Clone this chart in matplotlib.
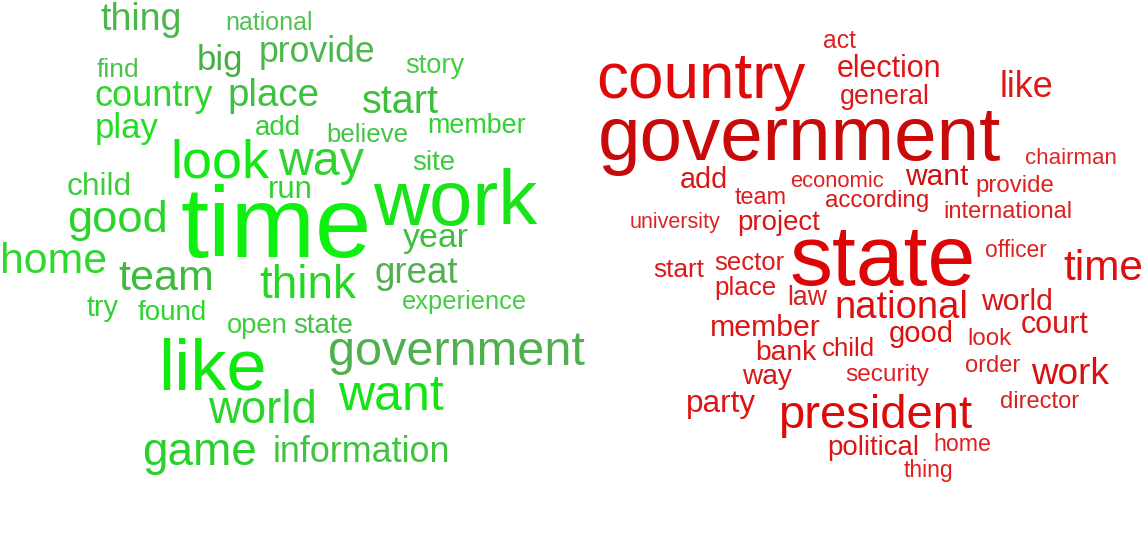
import matplotlib
matplotlib.use("Agg")
import matplotlib.pyplot as plt

# ---- data: words and their weights (rendered as font size in pt) ----
green_words = ["thing", "national", "big", "provide", "find", "story", "country", "place",
               "start", "play", "add", "believe", "member", "look", "way", "site", "child",
               "run", "good", "time", "work", "year", "home", "team", "think", "great",
               "try", "found", "experience", "open", "state", "like", "government", "want",
               "world", "game", "information"]
green_weights = [27, 18, 25, 25.7, 19, 19.6, 26, 27.7,
                 28.5, 25, 19.9, 18.6, 19.4, 39, 34.8, 20, 22.8,
                 22.4, 32.7, 73, 56, 24.4, 30.8, 31, 33, 26.5,
                 20.7, 20, 18.4, 19.7, 20, 52, 35, 36,
                 32.8, 33, 25.8]

red_words = ["act", "country", "election", "general", "like", "government", "chairman", "add",
             "economic", "want", "provide", "team", "according", "international", "university",
             "project", "state", "officer", "time", "start", "sector", "place", "law",
             "national", "world", "member", "court", "good", "look", "bank", "child", "way",
             "security", "order", "work", "party", "director", "president", "political",
             "home", "thing"]
red_weights = [17.8, 46, 22, 19.4, 26, 55, 16, 20.7,
               15.8, 21.5, 17.3, 16.8, 17.4, 17, 15.5,
               19.9, 61.8, 16.4, 30.5, 18.9, 18.5, 18.7, 19.2,
               27.5, 21.7, 21.8, 22, 21, 17.3, 20.3, 18.6, 20.2,
               17.6, 17, 26.6, 22.7, 17, 34, 19.9,
               16.7, 16.6]

# ---- layout: left x and baseline y in pixels (top-left origin) ----
green_pos = [(100, 30), (225, 30), (197, 70), (259, 62), (97, 77), (405, 73), (95, 106), (227, 106),
             (362, 113), (95, 138), (255, 135), (326, 142), (427, 133), (170, 177), (278, 175),
             (412, 170), (67, 195), (268, 198), (67, 232), (180, 257), (373, 225), (403, 247),
             (0, 273), (118, 290), (259, 298), (374, 283), (87, 316), (138, 320), (402, 309),
             (227, 333), (293, 333), (158, 390), (328, 365), (338, 410), (208, 423), (142, 465),
             (273, 462)]
red_pos = [(823, 48), (596, 98), (837, 77), (840, 104), (1000, 97), (598, 160), (1025, 164),
           (680, 188), (790, 187), (905, 185), (975, 192), (735, 204), (825, 207), (943, 218),
           (630, 228), (737, 230), (790, 285), (985, 257), (1063, 280), (653, 277), (714, 270),
           (714, 295), (787, 305), (834, 318), (981, 310), (710, 336), (1021, 333), (889, 342),
           (967, 345), (755, 360), (822, 356), (742, 384), (845, 381), (965, 372), (1031, 384),
           (686, 412), (1000, 408), (778, 428), (827, 455), (933, 451), (904, 477)]

# ---- styles ----
green_colors = ["#48b848", "#55c055", "#44b044", "#4cb84c", "#4cc04c", "#44cc44", "#2cd62c", "#40c040",
                "#3cc03c", "#22dd22", "#30d030", "#44c444", "#33d033", "#14e814", "#2ed42e", "#38cc38",
                "#3ccc3c", "#2ed42e", "#2ad42a", "#10f010", "#18e418", "#3cc03c", "#2ed82e", "#3cbc3c",
                "#22d822", "#50b050", "#33d033", "#2ed42e", "#44cc44", "#3cd03c", "#44c044", "#10e810",
                "#50b050", "#14e414", "#2ad42a", "#2cd02c", "#40c440"]
red_colors = ["#dd2222", "#e00a0a", "#dd1515", "#dd1a1a", "#dd1a1a", "#c80a0a", "#e02525", "#d81818",
              "#e02020", "#cc1010", "#dd2020", "#dd1a1a", "#dd1515", "#e02020", "#dd2525",
              "#dd1515", "#dd0505", "#e02020", "#dd1010", "#dd1a1a", "#dd1a1a", "#dd1a1a", "#d82020",
              "#dd1010", "#d81818", "#dd1515", "#d81818", "#dd1010", "#dd2020", "#dd1515", "#dd1515",
              "#d81818", "#e02020", "#dd2020", "#d81010", "#dd1515", "#d82020", "#dd0a0a", "#dd1515",
              "#e02020", "#e02020"]

W, H = 1148, 545
fig = plt.figure(figsize=(W / 100, H / 100), dpi=100)
fig.patch.set_facecolor("white")
ax = fig.add_axes([0, 0, 1, 1])
ax.set_xlim(0, W)
ax.set_ylim(H, 0)
ax.axis("off")

for words, weights, pos, cols in [(green_words, green_weights, green_pos, green_colors),
                                  (red_words, red_weights, red_pos, red_colors)]:
    for w, s, (x, y), c in zip(words, weights, pos, cols):
        ax.text(x, y, w, fontsize=s, color=c, ha="left", va="baseline",
                family=["Liberation Sans", "DejaVu Sans"])

fig.savefig("out.png", dpi=100, facecolor="white")
